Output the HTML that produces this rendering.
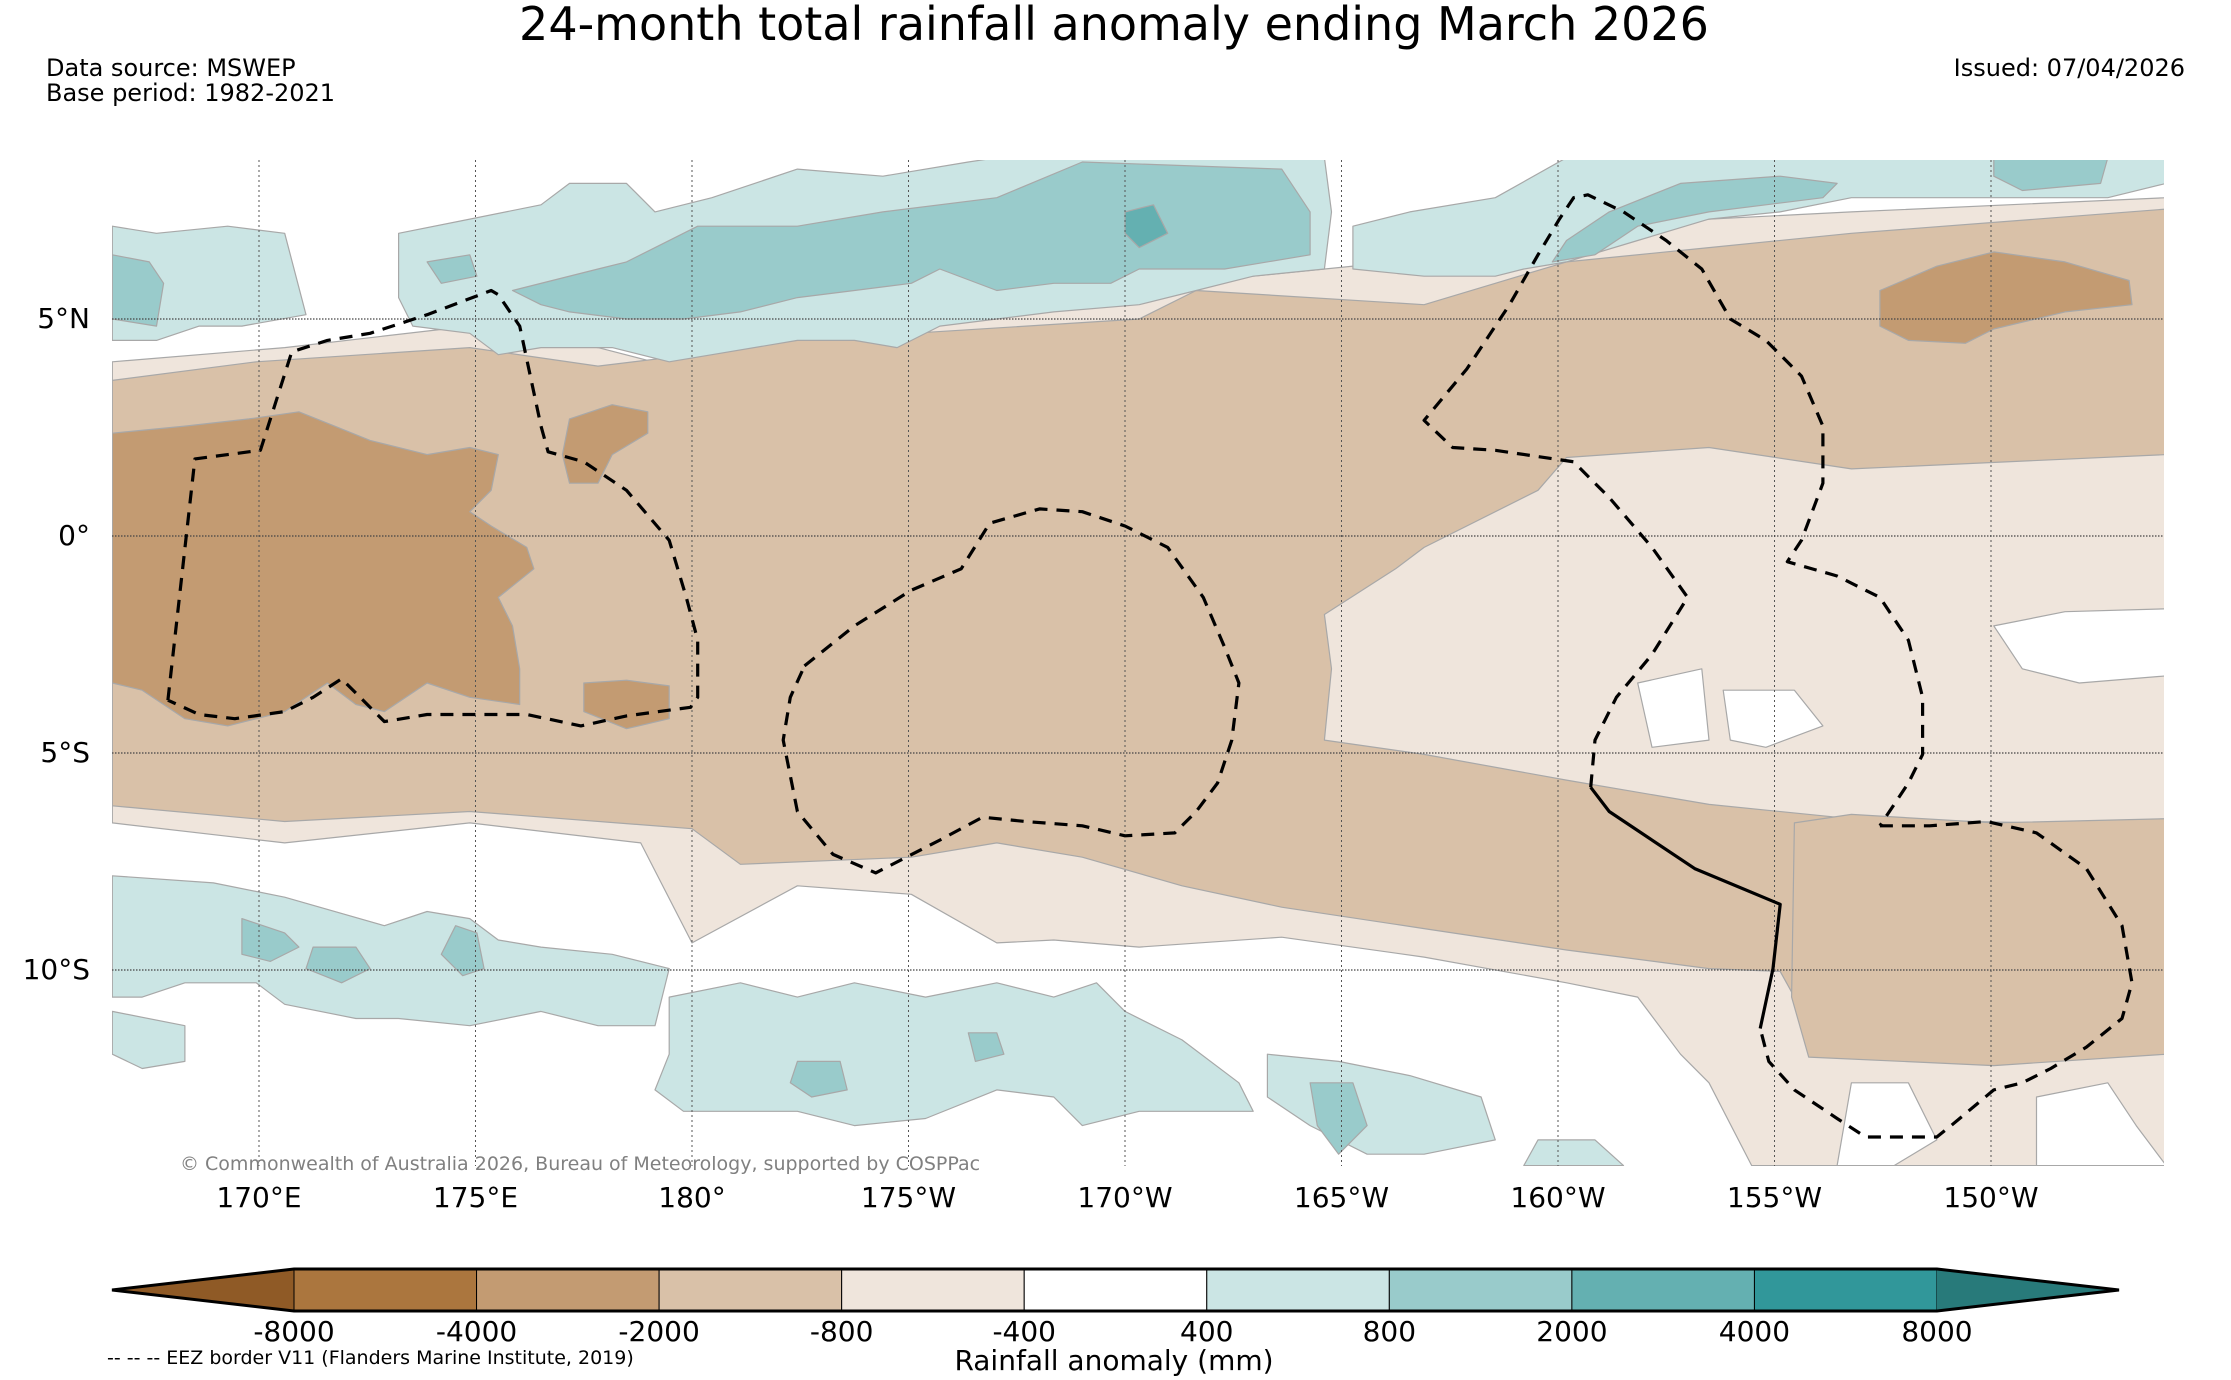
<!DOCTYPE html>
<html><head><meta charset="utf-8"><title>24-month total rainfall anomaly</title>
<style>
html,body{margin:0;padding:0;background:#fff;}
svg{display:block;font-family:"DejaVu Sans","Liberation Sans",sans-serif;}
</style></head>
<body>
<svg id="fig" width="2231" height="1380" viewBox="0 0 2231 1380" xmlns="http://www.w3.org/2000/svg">
<text x="1114" y="40" font-size="46" text-anchor="middle">24-month total rainfall anomaly ending March 2026</text>
<text x="46" y="76" font-size="24">Data source: MSWEP</text>
<text x="46" y="101" font-size="24">Base period: 1982-2021</text>
<text x="2185" y="76" font-size="24" text-anchor="end">Issued: 07/04/2026</text>
<defs><clipPath id="mapclip"><rect x="112" y="160" width="2052" height="1006"/></clipPath></defs>
<g id="map" clip-path="url(#mapclip)"></g>
<g id="grid"></g>
<g id="eez"></g>
<text x="180" y="1170" font-size="19" fill="#808080">© Commonwealth of Australia 2026, Bureau of Meteorology, supported by COSPPac</text>
<g id="xticks"></g>
<g id="yticks"></g>
<g id="cbar"></g>
<text x="107" y="1364" font-size="19">-- -- -- EEZ border V11 (Flanders Marine Institute, 2019)</text>
<text x="1114" y="1370" font-size="28" text-anchor="middle">Rainfall anomaly (mm)</text>
</svg>
<script>
// ---- data arrays ----
const lonTicks = [170, 175, 180, 185, 190, 195, 200, 205, 210];
const lonTickLabels = ["170°E","175°E","180°","175°W","170°W","165°W","160°W","155°W","150°W"];
const latTicks = [5, 0, -5, -10];
const latTickLabels = ["5°N","0°","5°S","10°S"];
const cbarLevels = ["-8000","-4000","-2000","-800","-400","400","800","2000","4000","8000"];
const cbarColors = ["#8f5a26","#ab763e","#c39b72","#d9c1a8","#efe5dc","#ffffff","#cbe5e4","#99cbcb","#64b0b1","#31979a","#287a7a"];

const X = lon => 692 + (lon - 180) * 43.3;
const Y = lat => 536 - lat * 43.4;
const PX = u => 692 + (u - 486) * 1.4243;
const PY = v => 536 + (v - 377) * 1.4276;

const NS = "http://www.w3.org/2000/svg";
function mk(tag, attrs, parent){ const e=document.createElementNS(NS,tag); for(const k in attrs) e.setAttribute(k,attrs[k]); parent.appendChild(e); return e; }

const map = document.getElementById('map');
const C = {beige:"#efe5dc", tan:"#d9c1a8", dark:"#c39b72", t1:"#cbe5e4", t2:"#99cbcb", t3:"#64b0b1", white:"#ffffff"};
const shapes = [
 ["beige-band","beige",[[79,255],[200,245],[330,230],[420,245],[486,262],[600,235],[700,220],[800,212],[830,200],[1000,183],[1100,163],[1200,155],[1300,150],[1521,140],[1521,818],[1230,818],[1200,760],[1180,740],[1150,700],[1100,690],[1000,672],[900,658],[800,665],[740,660],[700,662],[640,628],[560,622],[486,662],[450,592],[330,578],[200,592],[79,578]]],
 ["tan-band","tan",[[79,268],[180,255],[330,245],[420,258],[486,250],[520,240],[640,235],[800,225],[840,205],[1000,215],[1050,200],[1100,185],[1200,175],[1300,165],[1521,148],[1521,320],[1300,330],[1200,315],[1100,322],[1080,345],[1000,385],[980,400],[930,432],[935,470],[930,520],[1000,530],[1100,548],[1200,565],[1300,575],[1521,580],[1521,735],[1400,745],[1270,740],[1260,700],[1250,682],[1200,680],[1100,667],[1000,652],[900,637],[830,622],[760,602],[700,592],[640,602],[520,607],[486,582],[330,570],[200,577],[79,566]]],
 ["tan-lower-right","tan",[[1260,578],[1300,572],[1400,578],[1521,575],[1521,740],[1400,748],[1270,742],[1258,700]]],
 ["dark-west","dark",[[79,305],[130,300],[175,295],[210,290],[235,300],[260,310],[300,320],[330,315],[350,320],[345,345],[330,360],[345,370],[370,385],[375,400],[350,420],[360,440],[365,470],[365,495],[330,490],[300,480],[270,500],[250,495],[230,480],[200,500],[160,510],[130,505],[100,485],[79,480]]],
 ["dark-178e","dark",[[400,295],[430,285],[455,290],[455,305],[430,320],[420,340],[400,340],[395,320]]],
 ["dark-177e-south","dark",[[410,480],[440,478],[470,482],[470,505],[440,512],[410,500]]],
 ["dark-northeast","dark",[[1320,205],[1360,188],[1400,178],[1450,185],[1495,198],[1497,215],[1450,220],[1400,232],[1380,242],[1340,240],[1320,230]]],
 ["white-hole-a","white",[[1150,480],[1195,470],[1200,520],[1160,525]]],
 ["white-hole-b","white",[[1210,485],[1260,485],[1280,510],[1240,525],[1215,520]]],
 ["white-hole-c","white",[[1400,440],[1450,430],[1521,428],[1521,475],[1460,480],[1420,470]]],
 ["white-hole-d","white",[[1300,760],[1340,760],[1360,800],[1330,818],[1290,818]]],
 ["white-hole-e","white",[[1430,770],[1480,760],[1500,790],[1521,818],[1430,818]]],
 ["teal-n-west","t1",[[79,160],[110,165],[160,160],[200,165],[215,222],[170,230],[140,230],[110,240],[79,240]]],
 ["teal-n-central","t1",[[280,165],[330,155],[380,145],[400,130],[440,130],[460,150],[500,140],[560,120],[620,125],[680,115],[700,112],[930,112],[935,150],[930,190],[880,195],[840,205],[800,215],[740,220],[700,225],[660,230],[630,245],[600,240],[560,240],[500,250],[470,255],[430,245],[380,245],[350,250],[330,235],[290,230],[280,210]]],
 ["teal-n-east","t1",[[950,160],[990,150],[1050,140],[1100,112],[1521,112],[1521,130],[1480,140],[1400,140],[1300,140],[1250,150],[1200,155],[1150,170],[1100,185],[1070,190],[1050,195],[1000,195],[950,190]]],
 ["teal2-n-west","t2",[[79,180],[105,185],[115,200],[110,230],[79,225]]],
 ["teal2-n-small","t2",[[300,185],[330,180],[335,195],[310,200]]],
 ["teal2-n-central","t2",[[360,205],[420,190],[440,185],[490,160],[560,160],[620,150],[700,140],[760,115],[900,120],[920,150],[920,180],[860,190],[800,190],[780,200],[740,200],[700,205],[660,190],[640,200],[600,205],[560,210],[520,220],[480,225],[440,225],[400,220],[380,215]]],
 ["teal2-n-east","t2",[[1100,170],[1130,150],[1180,130],[1250,125],[1290,130],[1280,140],[1200,150],[1150,160],[1120,180],[1090,185]]],
 ["teal2-n-far-east","t2",[[1400,112],[1480,112],[1475,130],[1420,135],[1400,125]]],
 ["teal3-n","t3",[[790,150],[810,145],[820,165],[800,175],[790,165]]],
 ["teal-s-west","t1",[[79,615],[150,620],[200,630],[270,650],[300,640],[330,645],[350,660],[380,665],[430,670],[470,680],[460,720],[420,720],[380,710],[330,720],[280,715],[250,715],[200,705],[180,690],[130,690],[100,700],[79,700]]],
 ["teal-s-west2","t1",[[79,710],[130,720],[130,745],[100,750],[79,740]]],
 ["teal-s-central","t1",[[470,700],[520,690],[560,700],[600,690],[650,700],[700,690],[740,700],[770,690],[790,710],[830,730],[870,760],[880,780],[800,780],[760,790],[740,770],[700,765],[650,785],[600,790],[560,780],[520,780],[480,780],[460,765],[470,740]]],
 ["teal-s-east","t1",[[890,740],[940,745],[990,755],[1040,770],[1050,800],[1000,810],[960,810],[920,790],[890,770]]],
 ["teal-s-east2","t1",[[1080,800],[1120,800],[1140,818],[1070,818]]],
 ["teal2-s-1","t2",[[170,645],[200,655],[210,665],[190,675],[170,670]]],
 ["teal2-s-2","t2",[[220,665],[250,665],[260,680],[240,690],[215,680]]],
 ["teal2-s-3","t2",[[320,650],[335,655],[340,680],[325,685],[310,670]]],
 ["teal2-s-4","t2",[[560,745],[590,745],[595,765],[570,770],[555,760]]],
 ["teal2-s-5","t2",[[680,725],[700,725],[705,740],[685,745]]],
 ["teal2-s-6","t2",[[920,760],[950,760],[960,790],[940,810],[925,790]]]
];
for (const s of shapes){
  const pts = s[2].map(p => PX(p[0]).toFixed(1)+","+PY(p[1]).toFixed(1)).join(" ");
  const el = mk('polygon',{points:pts, fill:C[s[1]], stroke:"#a8a8a8", "stroke-width":"1.2", "stroke-linejoin":"round"}, map);
  
  
}

const grid = document.getElementById('grid');
lonTicks.forEach(l => {
  const el = mk('line',{x1:X(l),x2:X(l),y1:160,y2:1166,stroke:"#555","stroke-width":"1","stroke-dasharray":"2,3"},grid);
  
  
});
latTicks.forEach(l => {
  const el = mk('line',{x1:112,x2:2164,y1:Y(l),y2:Y(l),stroke:"#444","stroke-width":"1.2","stroke-dasharray":"1.5,1.5"},grid);
  
  
});

const eez = document.getElementById('eez');
const eezTuvaluGilbert = [[118,492],[137,323],[183,317],[205,248],[230,240],[260,235],[300,222],[345,205],[350,208],[365,230],[380,300],[385,318],[410,325],[440,345],[470,380],[482,420],[490,450],[490,490],[485,497],[440,503],[408,510],[370,502],[300,502],[270,507],[240,477],[220,490],[200,500],[165,505],[140,502],[118,492]];
const eezPhoenix = [[565,468],[600,440],[640,415],[675,400],[695,368],[730,358],[760,360],[790,370],[820,385],[845,420],[860,455],[870,480],[865,520],[855,550],[840,570],[825,585],[790,587],[760,580],[720,577],[690,574],[660,590],[615,613],[585,600],[560,570],[550,520],[555,490],[565,468]];
const eezLineN = [[1117,553],[1120,520],[1135,490],[1160,460],[1185,420],[1160,385],[1130,350],[1105,325],[1050,317],[1020,315],[1000,296],[1030,260],[1060,215],[1080,180],[1095,155],[1105,140],[1115,138],[1140,150],[1170,170],[1195,190],[1215,225],[1240,240],[1265,265],[1280,300],[1280,340],[1265,380],[1255,395],[1290,405],[1320,420],[1340,450],[1350,490],[1350,530],[1340,550],[1320,580]];
const eezLineS = [[1320,580],[1355,580],[1395,577],[1430,585],[1465,610],[1490,650],[1497,690],[1490,715],[1465,735],[1440,750],[1420,760],[1400,765],[1370,790],[1360,798],[1310,798],[1290,785],[1260,765],[1242,745],[1236,722]];
const boundarySolid = [[1117,553],[1130,570],[1190,610],[1250,635],[1245,680],[1236,722]];
function line(pts, dash, name){
  const d = pts.map((p,i)=>(i?"L":"M")+PX(p[0]).toFixed(1)+","+PY(p[1]).toFixed(1)).join(" ");
  const el = mk('path',{d:d,fill:"none",stroke:"#000","stroke-width":"3.2","stroke-linejoin":"round"},eez);
  if (dash) el.setAttribute('stroke-dasharray', dash);
  
  
}
line(eezTuvaluGilbert,"13,9","eez-tuvalu-gilbert");
line(eezPhoenix,"13,9","eez-phoenix");
line(eezLineN,"13,9","eez-line-islands-north");
line(eezLineS,"13,9","eez-line-islands-south");
line(boundarySolid,null,"maritime-boundary-solid");

const xt = document.getElementById('xticks');
lonTicks.forEach((l,i) => {
  const el = mk('text',{x:X(l),y:1207,"font-size":"28","text-anchor":"middle"},xt);
  el.textContent = lonTickLabels[i];
  
  
});
const yt = document.getElementById('yticks');
latTicks.forEach((l,i) => {
  const el = mk('text',{x:90,y:Y(l)+9,"font-size":"28","text-anchor":"end"},yt);
  el.textContent = latTickLabels[i];
  
  
});

const cb = document.getElementById('cbar');
const cx0 = 294, cx1 = 1937, cy0 = 1269, cy1 = 1311, nseg = cbarColors.length - 2;
const sw = (cx1 - cx0) / nseg;
let el = mk('polygon',{points:`112,${(cy0+cy1)/2} ${cx0},${cy0} ${cx0},${cy1}`,fill:cbarColors[0]},cb);


for (let i=0;i<nseg;i++){
  const r = mk('rect',{x:cx0+i*sw,y:cy0,width:sw,height:cy1-cy0,fill:cbarColors[i+1],stroke:"#000","stroke-width":"1"},cb);
  
  
}
el = mk('polygon',{points:`${cx1},${cy0} 2119,${(cy0+cy1)/2} ${cx1},${cy1}`,fill:cbarColors[cbarColors.length-1]},cb);


el = mk('polygon',{points:`112,${(cy0+cy1)/2} ${cx0},${cy0} ${cx1},${cy0} 2119,${(cy0+cy1)/2} ${cx1},${cy1} ${cx0},${cy1}`,fill:"none",stroke:"#000","stroke-width":"3"},cb);


cbarLevels.forEach((lab,i) => {
  const t = mk('text',{x:cx0+i*sw,y:1341,"font-size":"28","text-anchor":"middle"},cb);
  t.textContent = lab;
  
  
});
</script>
</body></html>
